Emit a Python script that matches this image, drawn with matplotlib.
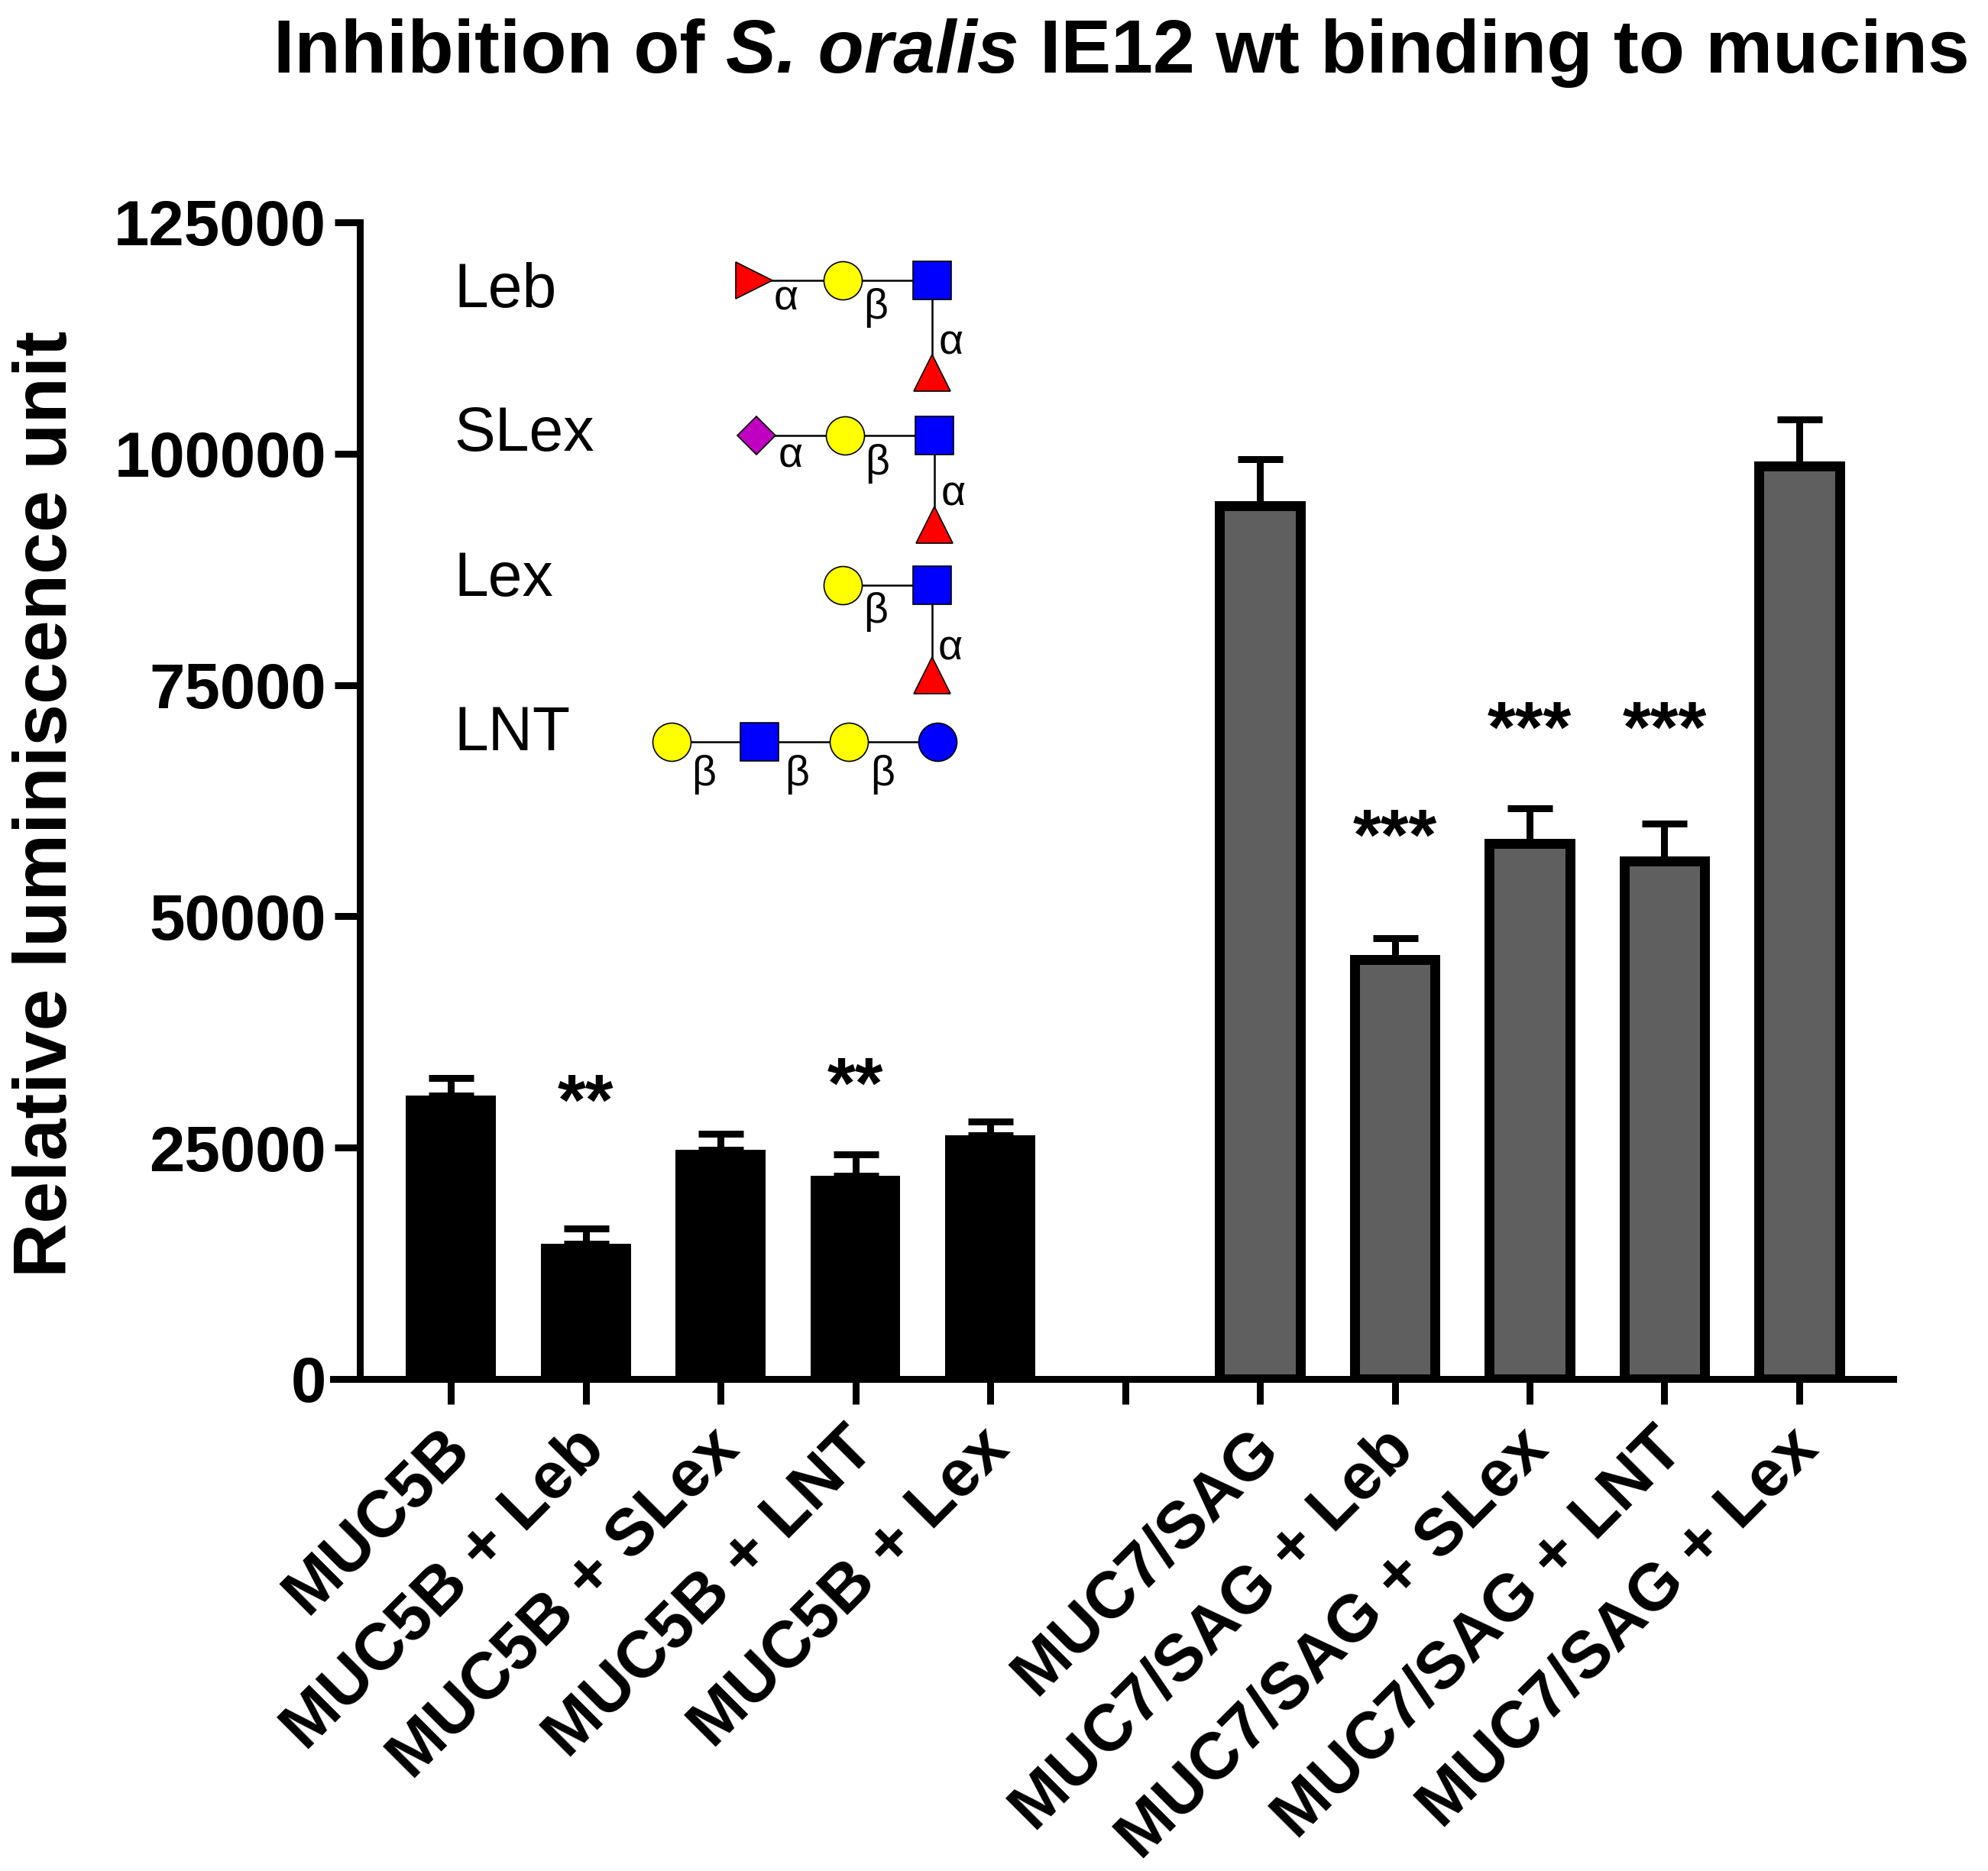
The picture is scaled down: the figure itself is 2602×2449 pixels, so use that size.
import matplotlib
matplotlib.use('Agg')
import matplotlib.pyplot as plt
import matplotlib.transforms as mtransforms
import numpy as np

plt.rcParams['font.family'] = ['Liberation Sans', 'DejaVu Sans']

# ---------------- data ----------------
categories = ["MUC5B", "MUC5B + Leb", "MUC5B + SLex", "MUC5B + LNT", "MUC5B + Lex", "",
              "MUC7/SAG", "MUC7/SAG + Leb", "MUC7/SAG + SLex", "MUC7/SAG + LNT", "MUC7/SAG + Lex"]
muc5b_pos = [0, 1, 2, 3, 4]
muc5b_vals = [30600, 14600, 24800, 22000, 26300]
muc5b_err = [1900, 1700, 1700, 2300, 1500]
muc7_pos = [6, 7, 8, 9, 10]
muc7_vals = [94400, 45300, 57900, 56000, 98700]
muc7_err = [5000, 2300, 3800, 4000, 5000]
star_pos = [1, 3, 7, 8, 9]
star_text = ["**", "**", "***", "***", "***"]
star_base = [27500, 29300, 56200, 67800, 67800]
yticks = [0, 25000, 50000, 75000, 100000, 125000]
title_parts = [("Inhibition of", 'normal'), ("S. oralis", 'italic'),
               ("IE12 wt binding to mucins", 'normal')]

W, H = 2602, 2449
PX = 72 / 100.0  # points per pixel

fig = plt.figure(figsize=(W / 100, H / 100), dpi=100)
ax = fig.add_axes([436 / W, (H - 1805) / H, (2478 - 436) / W, (1805 - 291) / H])

# error bars (upper only) behind bars
ax.errorbar(muc5b_pos, muc5b_vals, yerr=[np.zeros(5), muc5b_err], fmt='none',
            ecolor='black', elinewidth=9 * PX, capsize=29.5 * PX, capthick=9 * PX, zorder=1)
ax.errorbar(muc7_pos, muc7_vals, yerr=[np.zeros(5), muc7_err], fmt='none',
            ecolor='black', elinewidth=9 * PX, capsize=29.5 * PX, capthick=9 * PX, zorder=1)

ax.bar(muc5b_pos, muc5b_vals, width=0.668, color='black', edgecolor='black', linewidth=0, zorder=2)
ax.bar(muc7_pos, muc7_vals, width=0.60, color='#5f5f5f', edgecolor='black',
       linewidth=13 * PX, zorder=2)

for x, t, yb in zip(star_pos, star_text, star_base):
    ax.text(x, yb, t, ha='center', va='baseline', fontsize=68, fontweight='bold', zorder=3)

ax.set_xlim(-0.873, 10.697)
ax.set_ylim(0, 125000)
ax.spines['top'].set_visible(False)
ax.spines['right'].set_visible(False)
ax.spines['left'].set_position(('data', -0.674))
ax.spines['left'].set_linewidth(9 * PX)
ax.spines['bottom'].set_linewidth(9 * PX)
ax.spines['left'].set_capstyle('projecting')

ax.set_yticks(yticks)
ax.set_yticklabels([str(v) for v in yticks], fontweight='bold', fontsize=60)
ax.set_xticks(range(len(categories)))
ax.set_xticklabels(categories, rotation=45, ha='right', va='center', rotation_mode='anchor',
                   fontweight='bold', fontsize=62)
ax.tick_params(axis='both', width=9 * PX, length=33 * PX, direction='out', color='black')
ax.tick_params(axis='y', pad=8)
ax.tick_params(axis='x', pad=33)
offset = mtransforms.ScaledTranslation(12 / 100, 0, fig.dpi_scale_trans)
for lab in ax.get_xticklabels():
    lab.set_transform(lab.get_transform() + offset)

fig.text(16 / W, (H - 1052) / H, "Relative luminiscence unit", rotation=90,
         ha='left', va='center', fontsize=71, fontweight='bold')

# ---- title built from pieces (italic species name) ----
renderer = fig.canvas.get_renderer()
TFS = 71
ty = (H - 95) / H
pieces = [fig.text(0, ty, s, ha='left', va='baseline', fontsize=TFS, fontweight='bold', style=st)
          for s, st in title_parts]
probe1 = fig.text(0, 0, "I I", fontsize=TFS, fontweight='bold')
probe2 = fig.text(0, 0, "II", fontsize=TFS, fontweight='bold')
space_w = probe1.get_window_extent(renderer).width - probe2.get_window_extent(renderer).width
probe1.remove()
probe2.remove()
widths = [p.get_window_extent(renderer).width for p in pieces]
total = sum(widths) + space_w * (len(pieces) - 1)
x = 1468 - total / 2
for p, w in zip(pieces, widths):
    p.set_x(x / W)
    x += w + space_w

# ---------------- glycan legend (pixel overlay) ----------------
ov = fig.add_axes([0, 0, 1, 1])
ov.set_xlim(0, W)
ov.set_ylim(H, 0)
ov.axis('off')
ov.patch.set_alpha(0)

YEL, BLU, RED, MAG = '#ffff00', '#0000ff', '#ff0000', '#c000c0'
names = ["Leb", "SLex", "Lex", "LNT"]
name_base = [402, 590, 780, 982]
for n, yb in zip(names, name_base):
    ov.text(594, yb, n, fontsize=58, ha='left', va='baseline')

DX = -5
glycans = [
    ([('>', RED, 992), ('o', YEL, 1108), ('s', BLU, 1225)], 367, (1225, 488)),
    ([('D', MAG, 995), ('o', YEL, 1111), ('s', BLU, 1228)], 570, (1228, 687)),
    ([('o', YEL, 1108), ('s', BLU, 1225)], 766, (1225, 884)),
    ([('o', YEL, 884), ('s', BLU, 999), ('o', YEL, 1116), ('o', BLU, 1232)], 971, None),
]
msizes = {'o': 36, 's': 36, '>': 35, 'D': 25, '^': 34}
for chain, y, branch in glycans:
    xs = [c[2] + DX for c in chain]
    ov.plot([min(xs), max(xs)], [y, y], color='black', lw=1.8, zorder=1)
    if branch is not None:
        bx = branch[0] + DX
        ov.plot([bx, bx], [y, branch[1]], color='black', lw=1.8, zorder=1)
        ov.plot(bx, branch[1], marker='^', ms=msizes['^'], mfc=RED, mec='black',
                mew=1.2, zorder=2)
    for m, c, x in chain:
        ov.plot(x + DX, y, marker=m, ms=msizes[m], mfc=c, mec='black', mew=1.2, zorder=2)

links = [("α", 1034, 392), ("β", 1151, 403), ("α", 1250, 449),
         ("α", 1040, 597), ("β", 1153, 607), ("α", 1253, 648),
         ("β", 1151, 801), ("α", 1249, 850),
         ("β", 926, 1014), ("β", 1048, 1014), ("β", 1160, 1014)]
for t, x, y in links:
    ov.text(x + DX, y, t, fontsize=40, ha='center', va='center')

fig.savefig('out.png', dpi=100)
